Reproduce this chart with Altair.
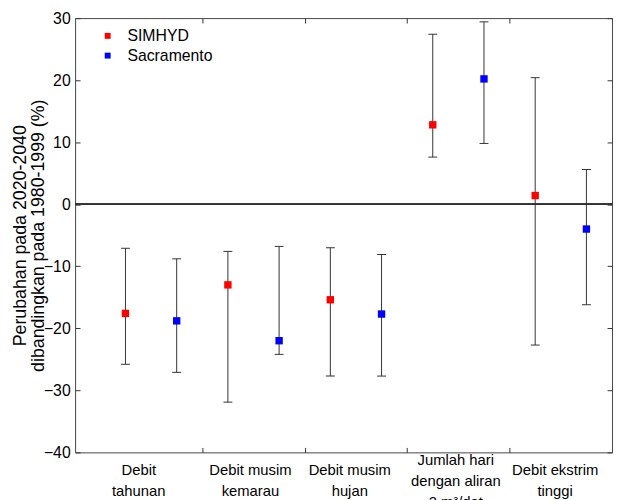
import json
import altair as alt
import pandas as pd

# ---- data ----
categories = ["Debit tahunan", "Debit musim kemarau", "Debit musim hujan",
              "Jumlah hari dengan aliran 2 m³/det", "Debit ekstrim tinggi"]
label_lines = [["Debit", "tahunan"], ["Debit musim", "kemarau"], ["Debit musim", "hujan"],
               ["Jumlah hari", "dengan aliran", "2 m³/det"], ["Debit ekstrim", "tinggi"]]
models = ["SIMHYD", "Sacramento"]
simhyd_mid = [-17.6, -13.0, -15.4, 12.8, 1.4]
simhyd_low = [-25.8, -31.9, -27.7, 7.6, -22.7]
simhyd_high = [-7.1, -7.6, -7.0, 27.4, 20.4]
sacr_mid = [-18.8, -22.0, -17.7, 20.2, -4.0]
sacr_low = [-27.1, -24.2, -27.7, 9.8, -16.2]
sacr_high = [-8.8, -6.8, -8.1, 29.4, 5.6]
y_ticks = [-40, -30, -20, -10, 0, 10, 20, 30]
sep_ticks = [1.5, 3.5, 5.5, 7.5]
label_centers = [0.25, 2.43, 4.37, 6.44, 8.38]

rows = []
for i, c in enumerate(categories):
    rows.append(dict(cat=c, model=models[0], x=2 * i, mid=simhyd_mid[i], low=simhyd_low[i], high=simhyd_high[i]))
    rows.append(dict(cat=c, model=models[1], x=2 * i + 1, mid=sacr_mid[i], low=sacr_low[i], high=sacr_high[i]))
df = pd.DataFrame(rows)

expr = "".join(
    f"abs(datum.value - {p}) < 0.01 ? {json.dumps(lines, ensure_ascii=False)} : "
    for p, lines in zip(label_centers, label_lines)
) + "''"
three_line = [p for p, lines in zip(label_centers, label_lines) if len(lines) == 3][0]

FONT = "Liberation Sans"
INK = "#333333"
xs = alt.Scale(domain=[-0.983, 9.5], nice=False, zero=False, padding=0)
ys = alt.Scale(domain=[-40, 30], nice=False, zero=False, padding=0)
tick_only = dict(labels=False, domain=False, tickSize=5, offset=-5, tickColor=INK,
                 title=None, grid=False)

base = alt.Chart(df)

bars = base.mark_rule(color=INK, strokeWidth=1).encode(
    x=alt.X("x:Q", scale=xs, axis=alt.Axis(orient="top", values=sep_ticks, **tick_only)),
    y=alt.Y("low:Q", scale=ys, axis=alt.Axis(orient="right", values=y_ticks, **tick_only)),
    y2="high:Q",
)

cap_lo = base.mark_tick(orient="horizontal", size=9, thickness=1, color=INK, opacity=1).encode(
    x=alt.X("x:Q", scale=xs, axis=alt.Axis(orient="bottom", values=sep_ticks, **tick_only)),
    y=alt.Y("low:Q", scale=ys, axis=None),
)

cap_hi = base.mark_tick(orient="horizontal", size=9, thickness=1, color=INK, opacity=1).encode(
    x=alt.X("x:Q", scale=xs, axis=alt.Axis(
        orient="bottom", values=label_centers, ticks=False, domain=False, grid=False,
        labelExpr=expr, labelFontSize=15, labelColor="black",
        labelPadding={"condition": {"test": f"abs(datum.value - {three_line}) < 0.01", "value": 7},
                      "value": 17},
        labelBaseline="middle", labelAlign="center", labelLineHeight=21.5,
        labelOverlap=False, labelFlush=False, labelBound=False, title=None)),
    y=alt.Y("high:Q", scale=ys, axis=None),
)

pts = base.mark_square(size=56, filled=True, opacity=1).encode(
    x=alt.X("x:Q", scale=xs, axis=None),
    y=alt.Y("mid:Q", scale=ys, axis=alt.Axis(
        orient="left", values=y_ticks, tickSize=5, offset=-5, domain=False, grid=False,
        tickColor=INK, labelPadding=5, labelFontSize=16, labelColor="black",
        title=["Perubahan pada 2020-2040", "dibandingkan pada 1980-1999 (%)"],
        titleFontSize=18, titleFontWeight="normal", titleColor="black",
        titlePadding=-4, titleLineHeight=18)),
    color=alt.Color("model:N", scale=alt.Scale(domain=models, range=["#ff0000", "#0000ff"]),
                    legend=alt.Legend(orient="none", legendX=25, legendY=10, title=None,
                                      symbolType="square", symbolSize=36, symbolStrokeWidth=0,
                                      symbolOpacity=1, labelFontSize=16, labelColor="black",
                                      labelOffset=12, rowPadding=4, padding=0)),
)

zero = alt.Chart(df).mark_rule(color=INK, strokeWidth=1).encode(
    y=alt.YDatum(0, scale=ys, axis=None, type="quantitative"),
)

chart = alt.layer(bars, cap_lo, cap_hi, pts, zero).resolve_axis(
    x="independent", y="independent"
).properties(
    width=544, height=440,
    autosize=alt.AutoSizeParams(type="none"),
    padding={"left": 68, "top": 7, "right": 2, "bottom": 45},
).configure(font=FONT).configure_view(stroke="#444444", strokeWidth=1)

chart.save("out.html", embed_options={"renderer": "svg", "actions": False})
